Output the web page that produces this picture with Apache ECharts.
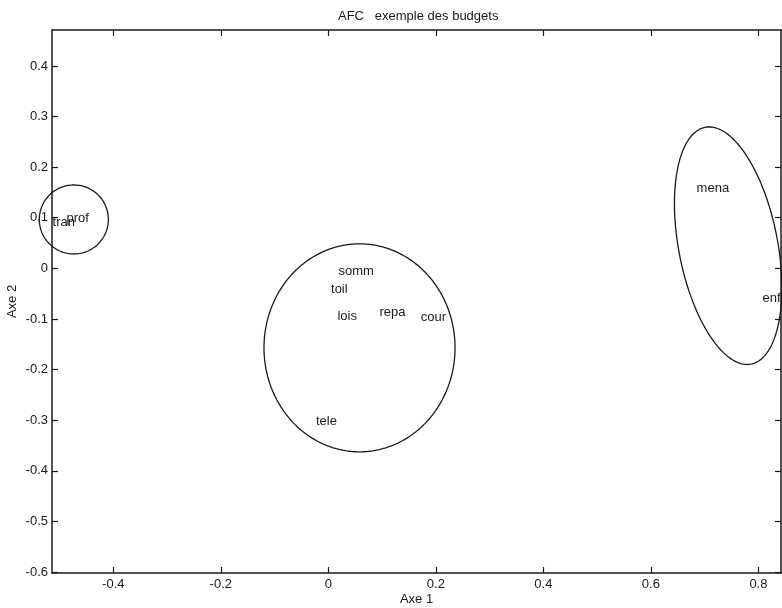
<!DOCTYPE html>
<html>
<head>
<meta charset="utf-8">
<script src="https://cdn.jsdelivr.net/npm/echarts@6/dist/echarts.min.js"></script>
<style>
html,body{margin:0;padding:0;background:#fff;}
#chart{width:782px;height:608px;}
</style>
</head>
<body>
<div id="chart"></div>
<script>
// Point labels (AFC coordinates on Axe 1 / Axe 2)
const labelNames = ['tran', 'prof', 'somm', 'toil', 'lois', 'repa', 'cour', 'tele', 'mena', 'enfa'];
const axe1 = [-0.513, -0.487, 0.019, 0.005, 0.017, 0.095, 0.172, -0.023, 0.685, 0.8075];
const axe2 = [0.091, 0.099, -0.006, -0.042, -0.094, -0.088, -0.097, -0.302, 0.157, -0.060];

// Group ellipses: centre, semi-axes (data units) and rotation (degrees)
const ellipseCx = [-0.4734, 0.058, 0.7437];
const ellipseCy = [0.0966, -0.157, 0.0448];
const ellipseA = [0.0642, 0.1777, 0.2378];
const ellipseB = [0.0682, 0.2055, 0.0922];
const ellipseAngle = [0, 0, 100.1];

// Axis ticks
const xTicks = [-0.4, -0.2, 0, 0.2, 0.4, 0.6, 0.8];
const xTickLabels = ['-0.4', '-0.2', '0', '0.2', '0.4', '0.6', '0.8'];
const yTicks = [-0.6, -0.5, -0.4, -0.3, -0.2, -0.1, 0, 0.1, 0.2, 0.3, 0.4];
const yTickLabels = ['-0.6', '-0.5', '-0.4', '-0.3', '-0.2', '-0.1', '0', '0.1', '0.2', '0.3', '0.4'];

const xMin = -0.514, xMax = 0.842, yMin = -0.602, yMax = 0.471;

const FONT = '"Liberation Sans", Arial, Helvetica, sans-serif';
const INK = '#1a1a1a';

function fmt(list, vals) {
  return function (v) {
    for (let i = 0; i < vals.length; i++) {
      if (Math.abs(vals[i] - v) < 1e-9) return list[i];
    }
    return '';
  };
}

const pointData = labelNames.map((n, i) => [axe1[i], axe2[i], n]);
const ellipseData = ellipseCx.map((c, i) => [c, ellipseCy[i], ellipseA[i], ellipseB[i], ellipseAngle[i]]);

function baseAxisX(pos, showLabel) {
  return {
    type: 'value', position: pos, min: xMin, max: xMax,
    splitLine: {show: false},
    axisLine: {show: true, onZero: false, lineStyle: {color: INK, width: 1.5}},
    axisTick: {show: true, inside: true, length: 6, lineStyle: {color: INK, width: 1.2}, customValues: xTicks},
    axisLabel: {show: showLabel, customValues: xTicks, formatter: fmt(xTickLabels, xTicks),
      color: INK, fontFamily: FONT, fontSize: 13, margin: 5, showMinLabel: true, showMaxLabel: true}
  };
}
function baseAxisY(pos, showLabel) {
  return {
    type: 'value', position: pos, min: yMin, max: yMax,
    splitLine: {show: false},
    axisLine: {show: true, onZero: false, lineStyle: {color: INK, width: 1.5}},
    axisTick: {show: true, inside: true, length: 6, lineStyle: {color: INK, width: 1.2}, customValues: yTicks},
    axisLabel: {show: showLabel, customValues: yTicks, formatter: fmt(yTickLabels, yTicks),
      color: INK, fontFamily: FONT, fontSize: 13, margin: 4}
  };
}

const xBottom = baseAxisX('bottom', true);
xBottom.name = 'Axe 1';
xBottom.nameLocation = 'middle';
xBottom.nameGap = 20;
xBottom.nameMoveOverlap = false;
xBottom.nameTextStyle = {color: INK, fontFamily: FONT, fontSize: 13};
const yLeft = baseAxisY('left', true);
yLeft.name = 'Axe 2';
yLeft.nameLocation = 'middle';
yLeft.nameGap = 33;
yLeft.nameMoveOverlap = false;
yLeft.nameTextStyle = {color: INK, fontFamily: FONT, fontSize: 13};

const chart = echarts.init(document.getElementById('chart'), null, {renderer: 'canvas'});
chart.setOption({
  backgroundColor: '#fff',
  animation: false,
  title: {
    text: 'AFC   exemple des budgets',
    left: 338, top: 10, padding: 0,
    textStyle: {color: INK, fontFamily: FONT, fontSize: 13, fontWeight: 'normal'}
  },
  grid: {left: 52, right: 1, top: 30, bottom: 35, containLabel: false, outerBoundsMode: 'none'},
  xAxis: [xBottom, baseAxisX('top', false)],
  yAxis: [yLeft, baseAxisY('right', false)],
  series: [
    {
      type: 'custom',
      xAxisIndex: 0, yAxisIndex: 0,
      silent: true,
      clip: false,
      data: ellipseData,
      encode: {x: 0, y: 1},
      renderItem: function (params, api) {
        const cx = api.value(0), cy = api.value(1), a = api.value(2), b = api.value(3);
        const th = api.value(4) * Math.PI / 180;
        const pts = [];
        const N = 180;
        for (let k = 0; k < N; k++) {
          const t = 2 * Math.PI * k / N;
          const ux = a * Math.cos(t), uy = b * Math.sin(t);
          const x = cx + ux * Math.cos(th) - uy * Math.sin(th);
          const y = cy + ux * Math.sin(th) + uy * Math.cos(th);
          pts.push(api.coord([x, y]));
        }
        return {
          type: 'polygon',
          shape: {points: pts},
          style: {fill: 'none', stroke: INK, lineWidth: 1.3}
        };
      }
    },
    {
      type: 'scatter',
      xAxisIndex: 0, yAxisIndex: 0,
      silent: true,
      symbolSize: 0,
      itemStyle: {opacity: 1},
      data: pointData,
      label: {
        show: true, position: 'right', distance: 0, opacity: 1,
        formatter: function (p) { return p.data[2]; },
        color: INK, fontFamily: FONT, fontSize: 13
      }
    }
  ]
});
</script>
</body>
</html>
